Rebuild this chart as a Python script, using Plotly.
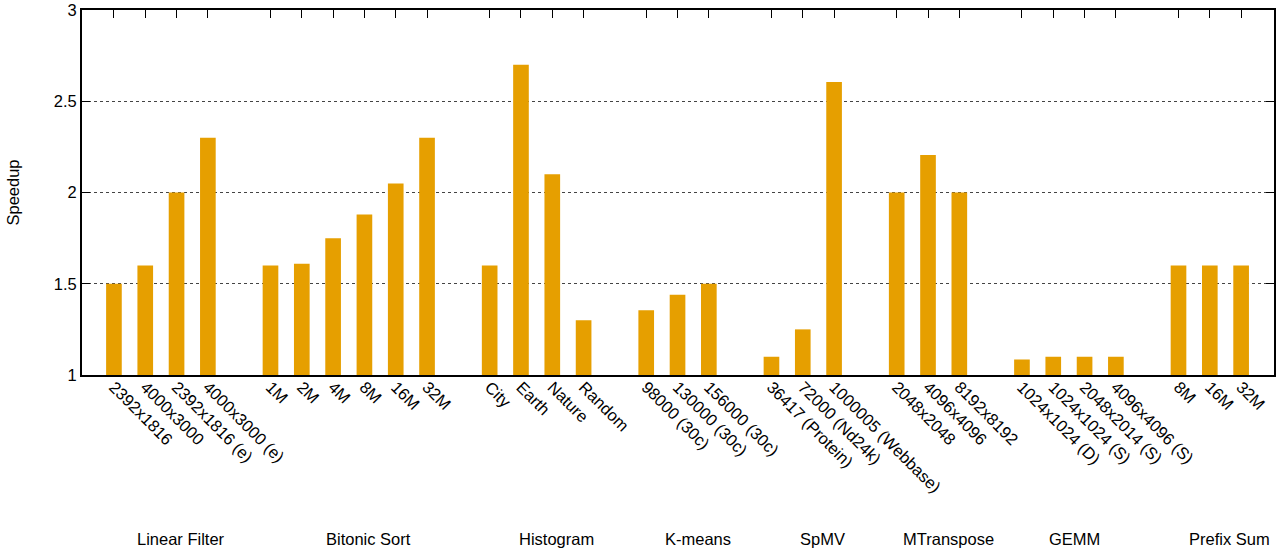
import plotly.graph_objects as go

groups = ["Linear Filter", "Bitonic Sort", "Histogram", "K-means", "SpMV",
          "MTranspose", "GEMM", "Prefix Sum"]
labels = [
    ["2392x1816", "4000x3000", "2392x1816 (e)", "4000x3000 (e)"],
    ["1M", "2M", "4M", "8M", "16M", "32M"],
    ["City", "Earth", "Nature", "Random"],
    ["98000 (30c)", "130000 (30c)", "156000 (30c)"],
    ["36417 (Protein)", "72000 (Nd24k)", "1000005 (Webbase)"],
    ["2048x2048", "4096x4096", "8192x8192"],
    ["1024x1024 (D)", "1024x1024 (S)", "2048x2014 (S)", "4096x4096 (S)"],
    ["8M", "16M", "32M"],
]
speedup = [
    [1.50, 1.60, 2.00, 2.30],
    [1.60, 1.61, 1.75, 1.88, 2.05, 2.30],
    [1.60, 2.70, 2.10, 1.30],
    [1.355, 1.44, 1.50],
    [1.10, 1.25, 2.605],
    [2.00, 2.205, 2.00],
    [1.085, 1.10, 1.10, 1.10],
    [1.60, 1.60, 1.60],
]

# layout: group title shift (in slots) relative to group centre
title_shift = [0.64, 0.64, 0.64, 0.65, 0.64, 0.66, 0.18, 0.63]

xs, ys, tt = [], [], []
centers = []
pos = 0
for g, (labs, vals) in enumerate(zip(labels, speedup)):
    start = pos
    for lab, v in zip(labs, vals):
        xs.append(pos)
        ys.append(v)
        tt.append(lab)
        pos += 1
    centers.append((start + pos - 1) / 2)
    pos += 1  # gap between groups

FONT = "Liberation Sans, Arial, Helvetica, sans-serif"
FS = 16.5
fig = go.Figure()
fig.add_trace(go.Bar(x=xs, y=[v - 1 for v in ys], base=1, width=0.5,
                     marker=dict(color="#E69F00", line=dict(width=0)),
                     hoverinfo="skip"))

for g, c in enumerate(centers):
    fig.add_annotation(x=c + title_shift[g], xref="x", y=0, yref="paper",
                       yshift=-164, text=groups[g], showarrow=False,
                       xanchor="center", yanchor="middle",
                       font=dict(size=FS, color="black", family=FONT))

fig.update_layout(
    width=1281, height=552,
    margin=dict(l=82, r=7, t=10, b=177, autoexpand=False),
    plot_bgcolor="white", paper_bgcolor="white",
    showlegend=False,
    font=dict(family=FONT, size=FS, color="black"),
    xaxis=dict(range=[-1.02, 37.05], tickvals=xs, ticktext=tt,
               tickangle=45, ticks="inside", ticklen=8, tickcolor="black",
               tickwidth=1, showline=True, linecolor="black", linewidth=2,
               mirror="ticks", showgrid=False, zeroline=False,
               tickfont=dict(size=FS, family=FONT, color="black"),
               ticklabelstandoff=-6, automargin=False,
               layer="below traces"),
    yaxis=dict(range=[1, 3], tickvals=[1, 1.5, 2, 2.5, 3],
               ticktext=["1", "1.5", "2", "2.5", "3"],
               ticks="inside", ticklen=8, tickcolor="black", tickwidth=1,
               showline=True, linecolor="black", linewidth=2, mirror="ticks",
               showgrid=True, gridcolor="#444444", griddash="dot", gridwidth=1,
               zeroline=False, tickfont=dict(size=FS, family=FONT),
               automargin=False,
               title=dict(text="Speedup", standoff=30,
                          font=dict(size=FS, family=FONT)),
               layer="below traces"),
)
fig.write_html("out.html", config={"displayModeBar": False},
               post_script="document.body.style.margin='0';document.body.style.overflow='hidden';")
